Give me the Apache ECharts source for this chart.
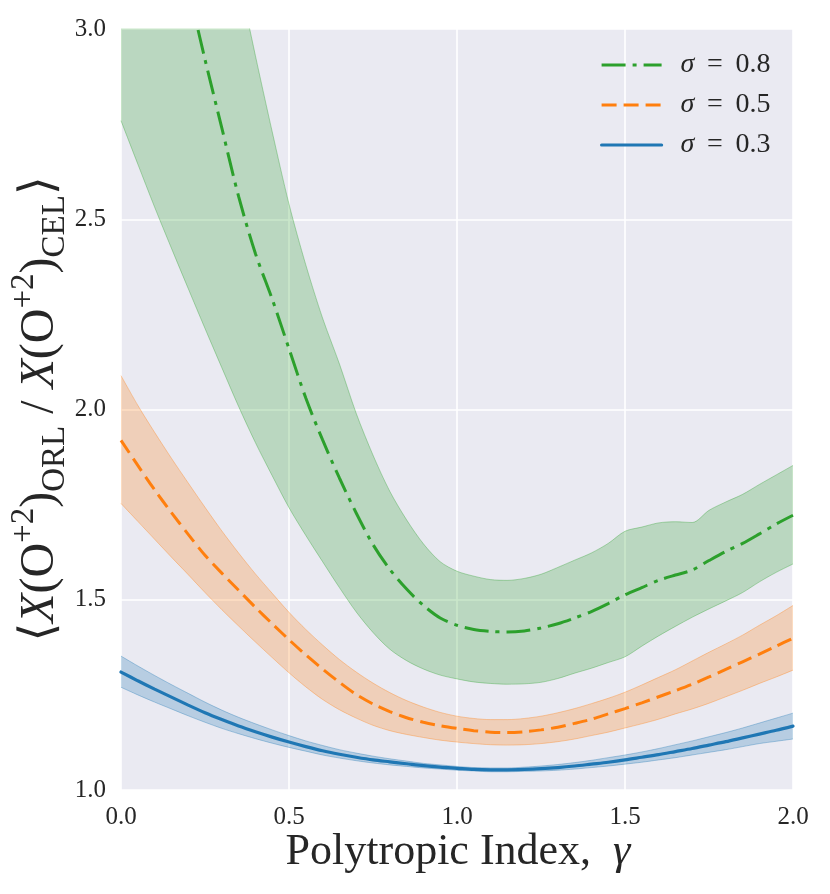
<!DOCTYPE html>
<html>
<head>
<meta charset="utf-8">
<script src="https://cdn.jsdelivr.net/npm/echarts@6/dist/echarts.min.js"></script>
<style>html,body{margin:0;padding:0;background:#fff}#c{width:830px;height:894px}</style>
</head>
<body>
<div id="c"></div>
<script>
const gamma = [0.00,0.05,0.10,0.15,0.20,0.25,0.30,0.35,0.40,0.45,0.50,0.55,0.60,0.65,0.70,0.75,0.80,0.85,0.90,0.95,1.00,1.05,1.10,1.15,1.20,1.25,1.30,1.35,1.40,1.45,1.50,1.55,1.60,1.65,1.70,1.75,1.80,1.85,1.90,1.95,2.00];
const xTickLabels = ['0.0','0.5','1.0','1.5','2.0'];
const yTickLabels = ['1.0','1.5','2.0','2.5','3.0'];
const legendNames = ['σ = 0.8','σ = 0.5','σ = 0.3'];

// sigma = 0.8 (green)
const greenMean = [3.97,3.74,3.52,3.31,3.11,2.92,2.74,2.56,2.41,2.29,2.16,2.03,1.92,1.82,1.728,1.645,1.58,1.528,1.485,1.452,1.433,1.422,1.417,1.415,1.418,1.426,1.437,1.452,1.469,1.49,1.513,1.532,1.551,1.565,1.578,1.603,1.627,1.648,1.673,1.699,1.722];
const greenUpper = [4.83,4.57,4.32,4.07,3.83,3.59,3.36,3.14,2.93,2.73,2.54,2.38,2.24,2.12,1.99,1.88,1.785,1.71,1.647,1.600,1.575,1.562,1.553,1.551,1.556,1.567,1.585,1.604,1.623,1.648,1.680,1.691,1.702,1.705,1.703,1.735,1.757,1.777,1.803,1.828,1.853];
const greenLower = [2.759,2.645,2.532,2.424,2.318,2.213,2.11,2.008,1.913,1.826,1.742,1.669,1.600,1.532,1.468,1.414,1.37,1.34,1.318,1.302,1.292,1.284,1.280,1.278,1.279,1.283,1.293,1.307,1.32,1.335,1.35,1.378,1.405,1.43,1.454,1.476,1.497,1.519,1.547,1.572,1.594];

// sigma = 0.5 (orange)
const orangeMean = [1.919,1.853,1.789,1.729,1.672,1.617,1.570,1.525,1.48,1.437,1.395,1.355,1.318,1.283,1.251,1.226,1.206,1.190,1.178,1.169,1.162,1.156,1.152,1.151,1.153,1.158,1.165,1.175,1.186,1.2,1.214,1.229,1.245,1.261,1.278,1.297,1.317,1.337,1.357,1.378,1.399];
const orangeUpper = [2.089,2.011,1.94,1.872,1.807,1.743,1.681,1.623,1.568,1.517,1.467,1.422,1.381,1.343,1.31,1.281,1.256,1.235,1.218,1.204,1.194,1.188,1.185,1.185,1.188,1.194,1.203,1.214,1.227,1.241,1.257,1.276,1.296,1.316,1.339,1.362,1.384,1.407,1.433,1.458,1.485];
const orangeLower = [1.753,1.706,1.659,1.612,1.566,1.519,1.474,1.431,1.389,1.348,1.308,1.271,1.238,1.211,1.189,1.17,1.156,1.146,1.138,1.131,1.126,1.122,1.119,1.118,1.119,1.122,1.127,1.134,1.143,1.152,1.163,1.174,1.186,1.2,1.213,1.228,1.245,1.262,1.28,1.297,1.315];

// sigma = 0.3 (blue)
const blueMean = [1.310,1.287,1.265,1.244,1.223,1.203,1.185,1.168,1.153,1.139,1.126,1.114,1.103,1.094,1.086,1.079,1.074,1.069,1.064,1.06,1.057,1.054,1.053,1.053,1.054,1.056,1.059,1.063,1.068,1.073,1.079,1.086,1.093,1.101,1.109,1.118,1.127,1.137,1.147,1.157,1.168];
const blueUpper = [1.352,1.326,1.301,1.277,1.254,1.231,1.210,1.191,1.174,1.158,1.143,1.129,1.117,1.106,1.097,1.089,1.082,1.076,1.07,1.066,1.062,1.059,1.058,1.058,1.06,1.063,1.067,1.072,1.078,1.085,1.092,1.1,1.109,1.119,1.129,1.14,1.151,1.163,1.176,1.189,1.202];
const blueLower = [1.270,1.250,1.231,1.213,1.195,1.178,1.162,1.148,1.135,1.123,1.112,1.102,1.092,1.084,1.077,1.071,1.066,1.062,1.058,1.055,1.052,1.05,1.048,1.048,1.049,1.05,1.052,1.055,1.059,1.063,1.068,1.073,1.079,1.085,1.092,1.099,1.106,1.114,1.122,1.128,1.134];

const GREEN = '#2ca02c', ORANGE = '#ff7f0e', BLUE = '#1f77b4';
const FONT = '"Liberation Serif", "DejaVu Serif", serif';
const TXT = '#262626';

function band(key, lower, upper, color) {
  const edge = { color: color, opacity: 0.35, width: 1 };
  return [
    { type: 'line', name: key + '_lo', data: lower, stack: key, symbol: 'none', smooth: 0.3,
      lineStyle: edge, silent: true, z: 1 },
    { type: 'line', name: key + '_band', data: upper.map((u, i) => +(u - lower[i]).toFixed(4)), stack: key,
      symbol: 'none', smooth: 0.3, lineStyle: edge, areaStyle: { color: color, opacity: 0.25 }, silent: true, z: 1 }
  ];
}

const chart = echarts.init(document.getElementById('c'), null, { renderer: 'canvas' });
chart.setOption({
  animation: false,
  backgroundColor: '#ffffff',
  grid: { left: 121, right: 37, top: 29, bottom: 104, show: true, backgroundColor: '#EAEAF2', borderWidth: 0 },
  xAxis: {
    type: 'category', data: gamma.map(String), boundaryGap: false,
    axisLine: { show: false }, axisTick: { show: false },
    axisLabel: { interval: 9, margin: 15, color: TXT, fontFamily: FONT, fontSize: 25,
      formatter: (v, i) => xTickLabels[i / 10] },
    splitLine: { show: true, interval: 9, lineStyle: { color: '#ffffff', width: 1.6 } }
  },
  yAxis: {
    type: 'value', min: 1, max: 3, interval: 0.5,
    axisLine: { show: false }, axisTick: { show: false },
    axisLabel: { margin: 15, color: TXT, fontFamily: FONT, fontSize: 25,
      formatter: v => yTickLabels[Math.round((v - 1) / 0.5)] },
    splitLine: { show: true, lineStyle: { color: '#ffffff', width: 1.6 } }
  },
  legend: {
    data: legendNames, orient: 'vertical', left: 595, top: 46,
    itemWidth: 60, itemHeight: 24, itemGap: 12,
    itemStyle: { opacity: 0 },
    lineStyle: { width: 3.2 },
    textStyle: { color: TXT, fontFamily: FONT, fontSize: 28, padding: [0, 0, 0, 14],
      rich: { i: { fontStyle: 'italic', fontFamily: FONT, fontSize: 28, color: TXT } } },
    formatter: name => '{i|σ}\u2009' + name.slice(1).replace('=', '=\u2009')
  },
  series: [
    ...band('g', greenLower, greenUpper, GREEN),
    ...band('o', orangeLower, orangeUpper, ORANGE),
    ...band('b', blueLower, blueUpper, BLUE),
    { type: 'line', name: legendNames[0], data: greenMean, symbol: 'none', smooth: 0.3, z: 3,
      lineStyle: { color: GREEN, width: 3, type: [24, 7, 4, 7] }, itemStyle: { color: GREEN } },
    { type: 'line', name: legendNames[1], data: orangeMean, symbol: 'none', smooth: 0.3, z: 3,
      lineStyle: { color: ORANGE, width: 3, type: [15, 7] }, itemStyle: { color: ORANGE } },
    { type: 'line', name: legendNames[2], data: blueMean, symbol: 'none', smooth: 0.3, z: 3,
      lineStyle: { color: BLUE, width: 3.2, cap: 'round' }, itemStyle: { color: BLUE } }
  ],
  graphic: [
    { type: 'text', x: 458, y: 852,
      style: { text: '{n|Polytropic Index,  }{i|γ}', fill: TXT, align: 'center', verticalAlign: 'middle',
        rich: { n: { fontFamily: FONT, fontSize: 44, fill: TXT }, i: { fontFamily: FONT, fontSize: 44, fontStyle: 'italic', fill: TXT } } } },
    { type: 'text', x: 40, y: 409, rotation: Math.PI / 2,
      style: {
        text: '{n|⟨}{i|X}{n|(O}{sup|+2}{n|)}{sub|ORL}{n| / }{i|X}{n|(O}{sup|+2}{n|)}{sub|CEL}{n|⟩}',
        align: 'center', verticalAlign: 'middle', fill: TXT,
        rich: {
          n: { fontFamily: FONT, fontSize: 48, lineHeight: 64, fill: TXT },
          i: { fontFamily: FONT, fontSize: 48, lineHeight: 64, fontStyle: 'italic', fill: TXT },
          sup: { fontFamily: FONT, fontSize: 33, lineHeight: 33, verticalAlign: 'top', fill: TXT },
          sub: { fontFamily: FONT, fontSize: 33, lineHeight: 33, verticalAlign: 'bottom', fill: TXT }
        }
      } }
  ]
});
</script>
</body>
</html>
